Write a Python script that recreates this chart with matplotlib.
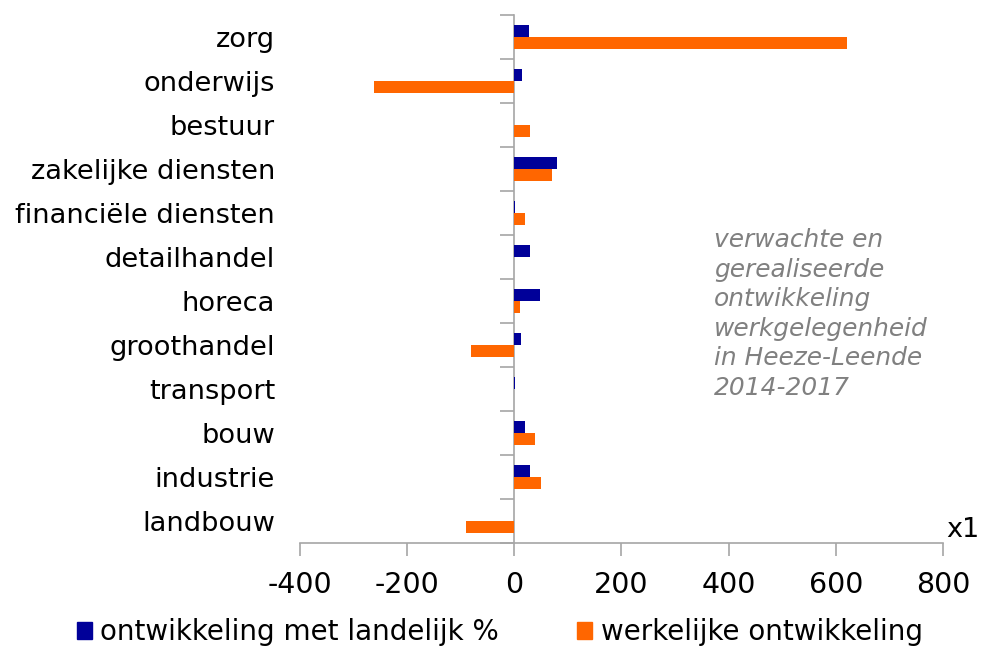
import matplotlib.pyplot as plt
import numpy as np
from matplotlib.patches import Patch

sectoren = ["zorg", "onderwijs", "bestuur", "zakelijke diensten",
            "financiële diensten", "detailhandel", "horeca", "groothandel",
            "transport", "bouw", "industrie", "landbouw"]
landelijk = [27, 15, 0, 79, 2, 29, 47, 12, 2, 19, 29, 0]
werkelijk = [620, -262, 29, 70, 19, 0, 10, -80, 0, 39, 50, -90]
xticks = [-400, -200, 0, 200, 400, 600, 800]

blauw = "#000099"
oranje = "#ff6600"
grijs = "#a6a6a6"

fig = plt.figure(figsize=(9.84, 6.5), dpi=100)
ax = fig.add_axes([300 / 984, 107 / 650, 643 / 984, 528 / 650])

y = np.arange(len(sectoren))
h = 0.275
ax.barh(y - h / 2, landelijk, height=h, color=blauw)
ax.barh(y + h / 2, werkelijk, height=h, color=oranje)

ax.set_xlim(-400, 800)
ax.set_ylim(len(sectoren) - 0.5, -0.5)

# categorie labels links, zonder streepjes
ax.set_yticks(y)
ax.set_yticklabels(sectoren, fontsize=19.6, color="black")
ax.tick_params(axis="y", length=0, pad=18)

# x-as
ax.set_xticks(xticks)
ax.set_xticklabels([str(v) for v in xticks], fontsize=20.5)
ax.tick_params(axis="x", direction="out", length=9, color=grijs, width=1.2, pad=11)

for s in ["top", "right", "left"]:
    ax.spines[s].set_visible(False)
ax.spines["bottom"].set_color(grijs)
ax.spines["bottom"].set_linewidth(1.2)

# verticale as bij 0 met streepjes tussen de categorieën
sec = ax.secondary_yaxis(400 / 1200)
sec.set_yticks(np.arange(len(sectoren) + 1) - 0.5)
sec.set_yticklabels([])
sec.tick_params(length=10, color=grijs, width=1.2)
sec.spines["left"].set_color(grijs)
sec.spines["left"].set_linewidth(1.2)

ax.text(1.005, 0.0, "x1", transform=ax.transAxes, fontsize=19.5,
        ha="left", va="bottom")

ax.text(0.644, 0.596, "verwachte en\ngerealiseerde\nontwikkeling\nwerkgelegenheid\nin Heeze-Leende\n2014-2017",
        transform=ax.transAxes, fontsize=17.9, style="italic", color="#808080",
        ha="left", va="top", linespacing=1.29)

handles = [Patch(color=blauw, label="ontwikkeling met landelijk %"),
           Patch(color=oranje, label="werkelijke ontwikkeling")]
fig.legend(handles=handles, loc="center left", bbox_to_anchor=(63 / 984, 18 / 650),
           ncol=2, frameon=False, fontsize=20, handlelength=0.55, handleheight=0.55,
           handletextpad=0.3, columnspacing=2.8, borderpad=0)

fig.savefig("out.png", dpi=100)
